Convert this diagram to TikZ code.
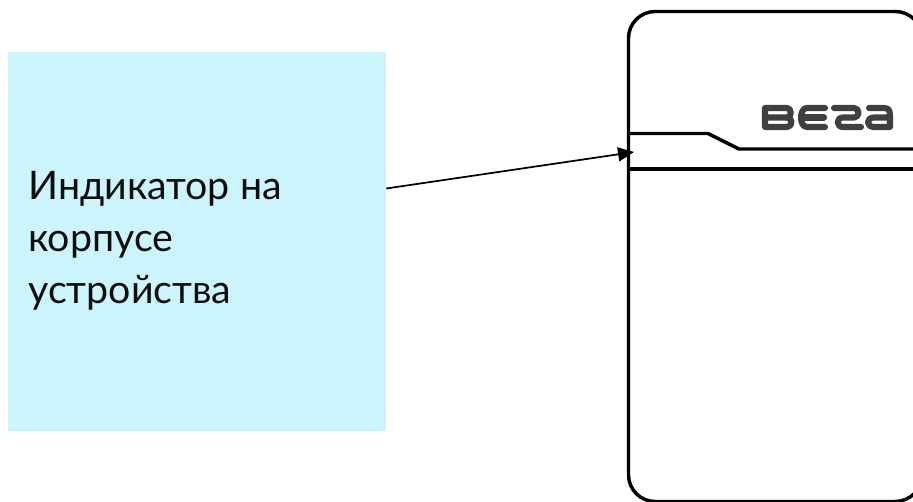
\documentclass[tikz,border=0pt]{standalone}
\usepackage{fontspec}
\setmainfont{Lato}
\usetikzlibrary{arrows.meta}
\definecolor{panel}{HTML}{CBF4FD}
\definecolor{logo}{HTML}{404040}
\tikzset{
  bodyline/.style={draw=black,line width=2.6pt},
  logoline/.style={draw=logo,line width=4.6pt,line cap=round,line join=round},
  panelbox/.style={fill=panel,draw=none,minimum width=378*0.75pt,minimum height=379*0.75pt,inner sep=0pt},
  lbl/.style={font=\fontsize{29.5}{39}\selectfont,align=left,anchor=west,inner sep=0pt,text=black!95},
  pointer/.style={draw=black,line width=1.3pt,-{Triangle[length=12pt,width=10.5pt]}}
}
\begin{document}
\begin{tikzpicture}[x=0.75pt,y=-0.75pt]
\useasboundingbox (0,0) rectangle (913,502);
\node[panelbox] (panel) at (197,241.5) {};
\node[lbl] (txt) at (28,241) {Индикатор на\\корпусе\\устройства};
% device body
\begin{scope}
\clip (0,0) rectangle (913,502);
\draw[bodyline,rounded corners=20pt] (628.5,300) -- (628.5,11.5) -- (922,11.5) -- (922,501.5) -- (628.5,501.5) -- cycle;
\draw[bodyline] (628.5,133.5) -- (708,133.5) -- (739,149) -- (913,149);
\draw[bodyline] (628.5,169) -- (913,169);
\end{scope}
\coordinate (target) at (634,152);
\draw[pointer] (panel.east |- 0,188.5) -- (target);
% logo
\draw[logoline] (765,108) -- (787,108) .. controls (792,108) and (792,117.5) .. (787,117.5) -- (765,117.5) -- (765,108);
\draw[logoline] (787,117.5) .. controls (793,117.5) and (793,127) .. (787,127) -- (765,127) -- (765,117.5);
\draw[logoline] (825,108) -- (807,108) .. controls (799,108) and (799,127) .. (807,127) -- (825,127);
\draw[logoline] (803,117.5) -- (824,117.5);
\draw[logoline] (834,108) -- (854,108) .. controls (860,108) and (860,117.5) .. (854,117.5) -- (843,117.5) .. controls (836,117.5) and (836,127) .. (843,127) -- (861,127);
\draw[logoline] (869,108) -- (884,108) .. controls (890,108) and (890,112) .. (890,117.5) -- (890,127) -- (874,127) .. controls (866,127) and (866,117.5) .. (874,117.5) -- (890,117.5);
\end{tikzpicture}
\end{document}
